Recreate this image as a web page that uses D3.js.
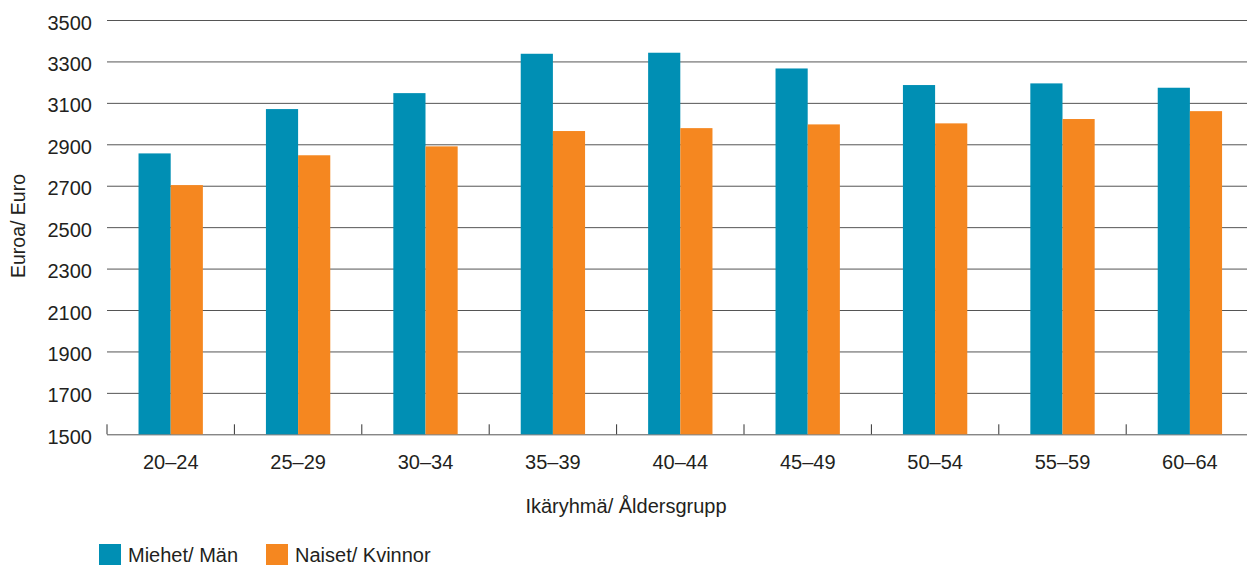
<!DOCTYPE html>
<html>
<head>
<meta charset="utf-8">
<script src="https://cdn.jsdelivr.net/npm/d3@7"></script>
<style>
  body { margin: 0; background: #fff; }
  text { font-family: "Liberation Sans", Arial, sans-serif; fill: #231f20; }
</style>
</head>
<body>
<div class="chart"></div>
<script>
// data
var ageGroups = ["20–24", "25–29", "30–34", "35–39", "40–44", "45–49", "50–54", "55–59", "60–64"];
var men   = [2856, 3070, 3147, 3337, 3342, 3266, 3186, 3194, 3173];
var women = [2703, 2847, 2890, 2964, 2978, 2996, 3001, 3022, 3060];
var seriesNames = ["Miehet/ Män", "Naiset/ Kvinnor"];
var seriesColors = ["#008fb4", "#f58720"];
var yTicks = [1500, 1700, 1900, 2100, 2300, 2500, 2700, 2900, 3100, 3300, 3500];

var width = 1247;
var height = 565;
var margin = {left: 107, top: 20, bottom: 131};
var plotRight = 1253.6; // chart runs a little past the picture edge

var svg = d3.select(".chart").append("svg")
    .attr("width", width)
    .attr("height", height);

var x = d3.scaleBand()
    .domain(ageGroups)
    .range([margin.left, plotRight])
    .padding(0);

var xInner = d3.scaleBand()
    .domain([0, 1])
    .range([0, x.bandwidth()])
    .paddingInner(0)
    .paddingOuter(0.98);

var y = d3.scaleLinear()
    .domain([1500, 3500])
    .range([434.3, margin.top]);

// gridlines + y labels
var yAxis = svg.append("g")
    .attr("transform", "translate(" + margin.left + ",0)")
    .call(d3.axisLeft(y)
      .tickValues(yTicks)
      .tickFormat(d3.format("d"))
      .tickSizeInner(-(plotRight - margin.left))
      .tickSizeOuter(0)
      .tickPadding(15));
yAxis.select(".domain").remove();
yAxis.selectAll(".tick line").attr("stroke", "#555").attr("stroke-width", 1);
yAxis.selectAll(".tick text")
    .style("font-size", "20px")
    .attr("dy", "0.45em");

// bars
var groups = svg.append("g").selectAll("g")
    .data(ageGroups)
  .enter().append("g")
    .attr("transform", function(d){ return "translate(" + x(d) + ",0)"; });

groups.selectAll("rect")
    .data(function(d, i){ return [men[i], women[i]]; })
  .enter().append("rect")
    .attr("x", function(d, j){ return xInner(j); })
    .attr("width", xInner.bandwidth())
    .attr("y", function(d){ return y(d); })
    .attr("height", function(d){ return y(1500) - y(d); })
    .attr("fill", function(d, j){ return seriesColors[j]; });

// category ticks between the groups
var bounds = d3.range(ageGroups.length + 1).map(function(i){ return margin.left + i * x.step(); });
svg.append("g").selectAll("line")
    .data(bounds)
  .enter().append("line")
    .attr("x1", function(d){ return d; })
    .attr("x2", function(d){ return d; })
    .attr("y1", y(1500) - 10)
    .attr("y2", y(1500))
    .attr("stroke", "#333")
    .attr("stroke-width", 1);

// x labels
var xAxis = svg.append("g")
    .attr("transform", "translate(0," + y(1500) + ")")
    .call(d3.axisBottom(x).tickSize(0).tickPadding(21));
xAxis.select(".domain").remove();
xAxis.selectAll(".tick text").style("font-size", "20px");

// axis titles
svg.append("text")
    .attr("x", 626)
    .attr("y", 513)
    .attr("text-anchor", "middle")
    .style("font-size", "20px")
    .text("Ikäryhmä/ Åldersgrupp");

svg.append("text")
    .attr("transform", "translate(25,226) rotate(-90)")
    .attr("text-anchor", "middle")
    .style("font-size", "19.5px")
    .text("Euroa/ Euro");

// legend
var legendX = [99, 266];
var legend = svg.append("g").selectAll("g")
    .data(seriesNames)
  .enter().append("g")
    .attr("transform", function(d, i){ return "translate(" + legendX[i] + ",544)"; });
legend.append("rect")
    .attr("width", 22)
    .attr("height", 22)
    .attr("fill", function(d, i){ return seriesColors[i]; });
legend.append("text")
    .attr("x", 29)
    .attr("y", 18)
    .style("font-size", "20px")
    .text(function(d){ return d; });
</script>
</body>
</html>
